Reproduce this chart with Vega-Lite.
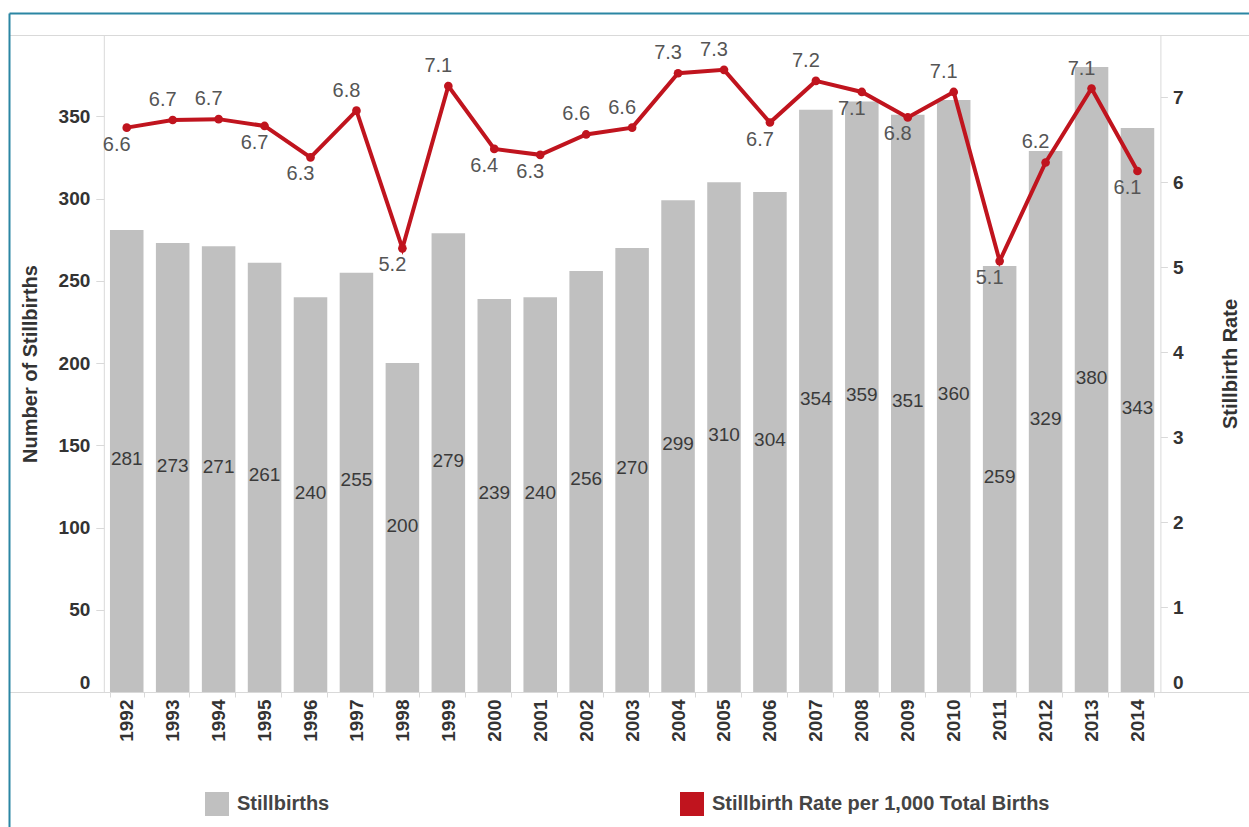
{
  "$schema": "https://vega.github.io/schema/vega-lite/v6.json",
  "autosize": {"type": "none"},
  "padding": {"left": 9, "top": 35, "right": 0, "bottom": 135},
  "width": 1240,
  "height": 657,
  "background": "white",
  "config": {
    "view": {"stroke": null},
    "font": "Liberation Sans",
    "axis": {"grid": false, "domainColor": "#d9d9d9", "tickColor": "#d9d9d9", "labelFont": "Liberation Sans", "titleFont": "Liberation Sans"}
  },
  "data": {
    "values": [
      {"year": 1992, "stillbirths": 281, "rate": 6.64},
      {"year": 1993, "stillbirths": 273, "rate": 6.73},
      {"year": 1994, "stillbirths": 271, "rate": 6.74},
      {"year": 1995, "stillbirths": 261, "rate": 6.66},
      {"year": 1996, "stillbirths": 240, "rate": 6.29},
      {"year": 1997, "stillbirths": 255, "rate": 6.84},
      {"year": 1998, "stillbirths": 200, "rate": 5.22},
      {"year": 1999, "stillbirths": 279, "rate": 7.13},
      {"year": 2000, "stillbirths": 239, "rate": 6.39},
      {"year": 2001, "stillbirths": 240, "rate": 6.32},
      {"year": 2002, "stillbirths": 256, "rate": 6.56},
      {"year": 2003, "stillbirths": 270, "rate": 6.64},
      {"year": 2004, "stillbirths": 299, "rate": 7.28},
      {"year": 2005, "stillbirths": 310, "rate": 7.32},
      {"year": 2006, "stillbirths": 304, "rate": 6.70},
      {"year": 2007, "stillbirths": 354, "rate": 7.19},
      {"year": 2008, "stillbirths": 359, "rate": 7.06},
      {"year": 2009, "stillbirths": 351, "rate": 6.76},
      {"year": 2010, "stillbirths": 360, "rate": 7.06},
      {"year": 2011, "stillbirths": 259, "rate": 5.07},
      {"year": 2012, "stillbirths": 329, "rate": 6.23},
      {"year": 2013, "stillbirths": 380, "rate": 7.10},
      {"year": 2014, "stillbirths": 343, "rate": 6.13}
    ]
  },
  "layer": [
    {
      "mark": {"type": "bar"},
      "encoding": {
        "x": {
          "field": "year", "type": "ordinal",
          "scale": {
            "domain": ["padL2", "padL1", 1992, 1993, 1994, 1995, 1996, 1997, 1998, 1999, 2000, 2001, 2002, 2003, 2004, 2005, 2006, 2007, 2008, 2009, 2010, 2011, 2012, 2013, 2014, "padR1", "padR2"],
            "paddingInner": 0.27, "paddingOuter": 0.13, "align": 0.76
          },
          "axis": {
            "orient": "bottom", "title": null, "labelAngle": 270, "labelFontSize": 19, "labelFontWeight": "bold",
            "labelColor": "#333", "tickBand": "extent", "tickSize": 5, "labelPadding": 2,
            "values": [1992, 1993, 1994, 1995, 1996, 1997, 1998, 1999, 2000, 2001, 2002, 2003, 2004, 2005, 2006, 2007, 2008, 2009, 2010, 2011, 2012, 2013, 2014]
          }
        },
        "y": {
          "field": "stillbirths", "type": "quantitative",
          "scale": {"domain": [0, 399.5], "nice": false},
          "axis": {
            "orient": "left", "offset": -94.8, "values": [0, 50, 100, 150, 200, 250, 300, 350],
            "tickSize": 8, "labelPadding": 6, "labelFontSize": 19, "labelFontWeight": "bold", "labelColor": "#333",
            "labelFlush": true,
            "title": "Number of Stillbirths", "titleFontSize": 20, "titleFontWeight": "bold", "titleColor": "#333", "titlePadding": 17.5
          }
        },
        "color": {
          "datum": "Stillbirths", "type": "nominal",
          "scale": {"domain": ["Stillbirths", "Stillbirth Rate per 1,000 Total Births"], "range": ["#c0c0c0", "#c0141e"]},
          "legend": {
            "title": null, "orient": "none", "legendX": 196, "legendY": 757, "direction": "horizontal", "columns": 2,
            "columnPadding": 350, "symbolType": "square", "symbolSize": 576, "symbolStrokeWidth": 0, "symbolOpacity": 1,
            "labelFont": "Liberation Sans", "labelFontSize": 20, "labelFontWeight": "bold", "labelColor": "#444",
            "labelOffset": 8, "padding": 0, "labelLimit": 600,
            "encode": {"symbols": {"update": {"fill": {"scale": "color", "field": "value"}, "stroke": {"value": "transparent"}, "opacity": {"value": 1}}}}
          }
        }
      }
    },
    {
      "mark": {"type": "text", "fontSize": 19, "color": "#3a3a3a", "baseline": "middle", "dy": -2},
      "encoding": {
        "x": {
          "field": "year", "type": "ordinal",
          "axis": {"orient": "top", "labels": false, "ticks": false, "domain": true, "title": null}
        },
        "y": {"field": "stillbirths", "type": "quantitative", "scale": {"domain": [0, 799], "nice": false}, "axis": null},
        "text": {"field": "stillbirths", "type": "quantitative"}
      }
    },
    {
      "encoding": {
        "x": {
          "field": "year", "type": "ordinal",
          "axis": {
            "orient": "top", "offset": 22, "labels": false, "title": null,
            "domain": true, "domainColor": "#2b86a3", "domainWidth": 2,
            "ticks": true, "values": ["padL2"], "tickColor": "#2b86a3", "tickWidth": 2, "tickSize": -814, "tickOffset": -25.9
          }
        },
        "y": {
          "field": "rate", "type": "quantitative",
          "scale": {"domain": [0, 7.73], "nice": false},
          "axis": {
            "orient": "right", "offset": -88.6, "values": [0, 1, 2, 3, 4, 5, 6, 7],
            "tickSize": 7, "labelPadding": 5, "labelFontSize": 19, "labelFontWeight": "bold", "labelColor": "#333",
            "labelFlush": true,
            "title": "Stillbirth Rate", "titleAngle": 270, "titleFontSize": 20, "titleFontWeight": "bold", "titleColor": "#333", "titlePadding": 58
          }
        }
      },
      "layer": [
        {
          "mark": {"type": "line", "strokeWidth": 4},
          "encoding": {"color": {"datum": "Stillbirth Rate per 1,000 Total Births", "type": "nominal"}}
        },
        {
          "mark": {"type": "point", "filled": true, "size": 75, "opacity": 1},
          "encoding": {"color": {"datum": "Stillbirth Rate per 1,000 Total Births", "type": "nominal"}}
        },
        {
          "transform": [{"filter": {"field": "year", "oneOf": [1993, 1994, 1997, 1999, 2002, 2003, 2004, 2005, 2007, 2010, 2012, 2013]}}],
          "mark": {"type": "text", "fontSize": 20, "color": "#555", "baseline": "middle", "dx": -10, "dy": -20},
          "encoding": {"text": {"field": "rate", "type": "quantitative", "format": ".1f"}}
        },
        {
          "transform": [{"filter": {"field": "year", "oneOf": [1992, 1995, 1996, 1998, 2000, 2001, 2006, 2008, 2009, 2011, 2014]}}],
          "mark": {"type": "text", "fontSize": 20, "color": "#555", "baseline": "middle", "dx": -10, "dy": 17},
          "encoding": {"text": {"field": "rate", "type": "quantitative", "format": ".1f"}}
        }
      ]
    }
  ],
  "resolve": {"scale": {"y": "independent"}, "axis": {"x": "independent", "y": "independent"}}
}
